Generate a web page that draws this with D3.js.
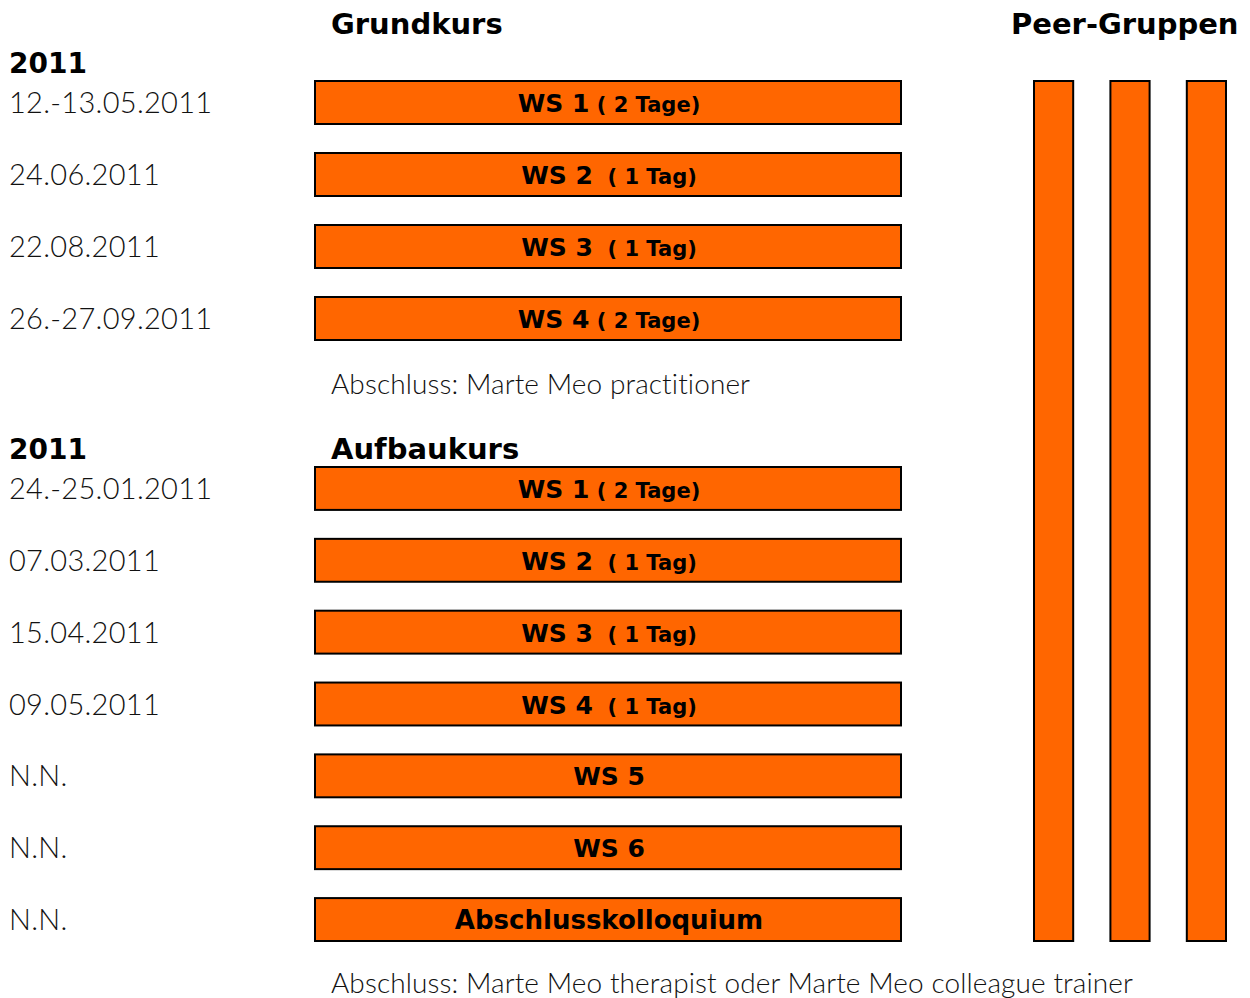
<!DOCTYPE html>
<html>
<head>
<meta charset="utf-8">
<script src="https://cdn.jsdelivr.net/npm/d3@7.9.0/dist/d3.min.js"></script>
<style>
  body { margin: 0; background: #fff; }
</style>
</head>
<body>
<div id="chart"></div>
<script>
// Data
const grundDates = ["12.-13.05.2011", "24.06.2011", "22.08.2011", "26.-27.09.2011"];
const grundWS = ["WS 1", "WS 2", "WS 3", "WS 4"];
const grundDays = ["( 2 Tage)", "( 1 Tag)", "( 1 Tag)", "( 2 Tage)"];

const aufbauDates = ["24.-25.01.2011", "07.03.2011", "15.04.2011", "09.05.2011", "N.N.", "N.N.", "N.N."];
const aufbauWS = ["WS 1", "WS 2", "WS 3", "WS 4", "WS 5", "WS 6", "Abschlusskolloquium"];
const aufbauDays = ["( 2 Tage)", "( 1 Tag)", "( 1 Tag)", "( 1 Tag)", "", "", ""];

const peerGroups = ["A", "B", "C"];

const W = 1250, H = 998;
const orange = "#FF6600";
const boldFont = "'DejaVu Sans', sans-serif";
const lightFont = "Lato, 'Open Sans', sans-serif";

const svg = d3.select("#chart").append("svg")
  .attr("width", W).attr("height", H);

// Scales
const xBar = d3.scaleLinear().domain([0, 1]).range([315, 901]);
const yGrund = d3.scaleBand().domain(d3.range(grundWS.length)).range([81, 340]).paddingInner(29 / 72).paddingOuter(0);
const yAufbau = d3.scaleBand().domain(d3.range(aufbauWS.length)).range([467, 941]).paddingInner(29 / 72).paddingOuter(0);
const xPeer = d3.scaleBand().domain(peerGroups).range([1034, 1226]).paddingInner(0.487);
const yPeer = d3.scaleLinear().domain([0, 1]).range([81, 941]);

function block(ws, days, dates, yScale) {
  const g = svg.append("g");
  const items = ws.map((w, i) => ({ i, w, day: days[i], date: dates[i] }));

  g.selectAll("rect").data(items).join("rect")
    .attr("x", xBar(0))
    .attr("y", d => yScale(d.i))
    .attr("width", xBar(1) - xBar(0))
    .attr("height", yScale.bandwidth())
    .attr("fill", orange)
    .attr("stroke", "#000")
    .attr("stroke-width", 2);

  const lbl = g.selectAll("text.lbl").data(items).join("text")
    .attr("class", "lbl")
    .attr("x", (xBar(0) + xBar(1)) / 2 + 1)
    .attr("y", d => yScale(d.i) + 31)
    .attr("text-anchor", "middle")
    .attr("font-family", boldFont)
    .attr("font-weight", "bold")
    .attr("fill", "#000");
  lbl.append("tspan")
    .attr("font-size", d => d.w.length > 6 ? 26 : 25)
    .text(d => d.w);
  lbl.filter(d => d.day).append("tspan")
    .attr("font-size", 21)
    .style("white-space", "pre")
    .text(d => (d.day.includes("Tage") ? " " : "  ") + d.day);

  g.selectAll("text.date").data(items).join("text")
    .attr("class", "date")
    .attr("x", 9)
    .attr("y", d => yScale(d.i) + 32)
    .attr("font-family", lightFont)
    .attr("font-weight", 300)
    .attr("font-size", 29)
    .attr("letter-spacing", 0.3)
    .attr("fill", "#111")
    .text(d => d.date);
}

block(grundWS, grundDays, grundDates, yGrund);
block(aufbauWS, aufbauDays, aufbauDates, yAufbau);

// Peer group columns
svg.append("g").selectAll("rect").data(peerGroups).join("rect")
  .attr("x", d => xPeer(d))
  .attr("y", yPeer(0))
  .attr("width", xPeer.bandwidth())
  .attr("height", yPeer(1) - yPeer(0))
  .attr("fill", orange)
  .attr("stroke", "#000")
  .attr("stroke-width", 2);

// Headings
function heading(x, y, t, size) {
  svg.append("text")
    .attr("x", x).attr("y", y)
    .attr("font-family", boldFont)
    .attr("font-weight", "bold")
    .attr("font-size", size)
    .attr("fill", "#000")
    .text(t);
}
heading(331, 34, "Grundkurs", 29);
heading(1011, 34, "Peer-Gruppen", 29);
heading(9, 73, "2011", 28);
heading(9, 459, "2011", 28);
heading(331, 459, "Aufbaukurs", 29);

function note(x, y, t) {
  svg.append("text")
    .attr("x", x).attr("y", y)
    .attr("font-family", lightFont)
    .attr("font-weight", 300)
    .attr("font-size", 28)
    .attr("letter-spacing", 0.1)
    .attr("fill", "#111")
    .text(t);
}
note(331, 394, "Abschluss: Marte Meo practitioner");
note(331, 993, "Abschluss: Marte Meo therapist oder Marte Meo colleague trainer");
</script>
</body>
</html>
